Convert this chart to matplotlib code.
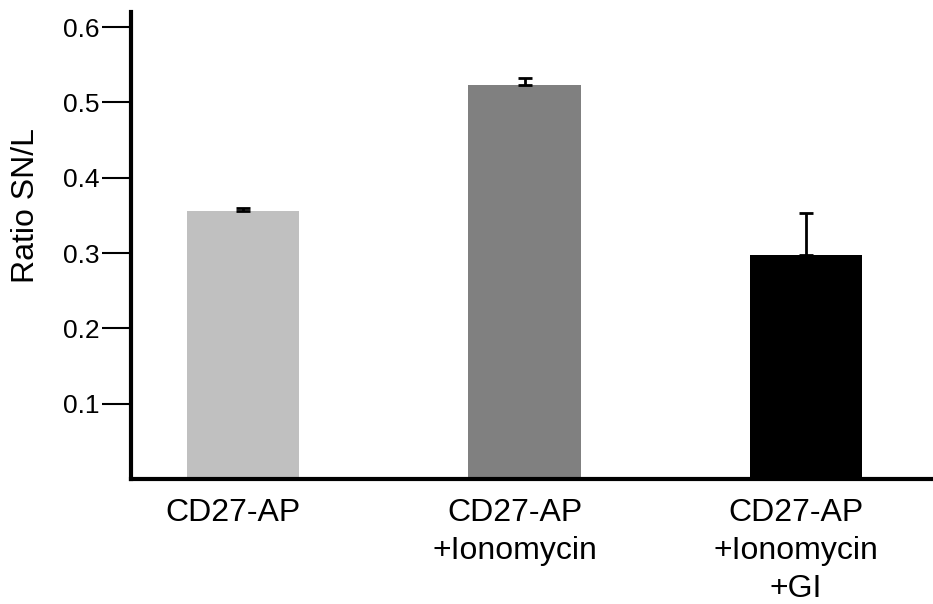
import numpy as np
import matplotlib
matplotlib.use('Agg')
from matplotlib import pyplot as plt
from matplotlib import transforms

plt.rcParams['font.family'] = ['Liberation Sans', 'DejaVu Sans']

# data
groups = ['CD27-AP', 'CD27-AP\n+Ionomycin', 'CD27-AP\n+Ionomycin\n+GI']
ratio = [0.356, 0.523, 0.297]
err = [0.004, 0.010, 0.056]
colors = ['#c0c0c0', '#808080', '#000000']
yticks = [0.1, 0.2, 0.3, 0.4, 0.5, 0.6]

fig = plt.figure(figsize=(9.33, 6.04), dpi=100)
ax = fig.add_axes([131/933, 1 - 479/604, 802/933, 467/604])

x = np.arange(len(groups))
ax.bar(x, ratio, width=0.40, color=colors, zorder=2)
ax.errorbar(x, ratio, yerr=[np.zeros(len(err)), err], fmt='none',
            ecolor='black', elinewidth=2, capsize=5, capthick=2, zorder=3)

ax.set_xlim(-0.398, 2.451)
ax.set_ylim(0, 0.62)
ax.set_xticks(x)
ax.set_xticklabels(groups, fontsize=23, linespacing=1.34)
ax.set_yticks(yticks)
ax.set_yticklabels(['%.1f' % t for t in yticks], fontsize=19)
ax.tick_params(axis='x', length=0, pad=14)
ax.tick_params(axis='y', length=21, width=1.5, pad=1.5, direction='out')

# labels in the reference sit a little left of the bar centres
shift = transforms.ScaledTranslation(-10/100, 0, fig.dpi_scale_trans)
for lab in ax.get_xticklabels():
    lab.set_transform(lab.get_transform() + shift)

for s in ['top', 'right']:
    ax.spines[s].set_visible(False)
for s in ['left', 'bottom']:
    ax.spines[s].set_linewidth(3)

ax.set_ylabel('Ratio SN/L', fontsize=23)
ax.yaxis.set_label_coords(-0.112, 0.585)

plt.savefig('out.png', dpi=100)
